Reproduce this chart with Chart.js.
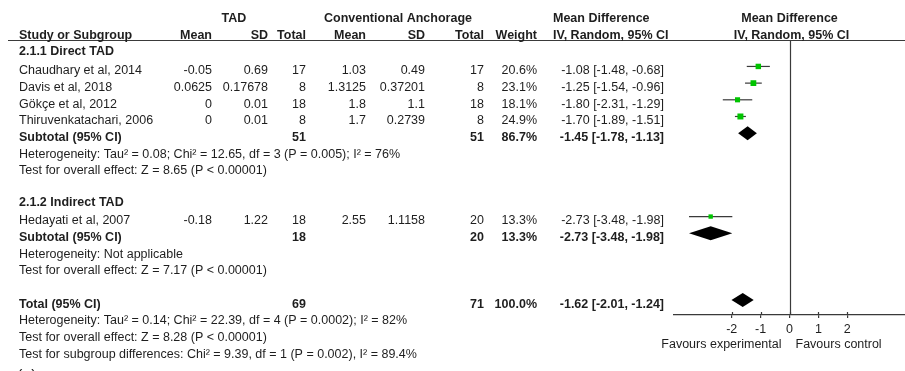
<!DOCTYPE html>
<html>
<head>
<meta charset="utf-8">
<title>Forest plot: TAD vs conventional anchorage</title>
<script src="https://cdn.jsdelivr.net/npm/chart.js@4/dist/chart.umd.min.js"></script>
<style>
  html, body { margin: 0; padding: 0; background: #ffffff; }
  #wrap { width: 905px; height: 371px; }
</style>
</head>
<body>
<div id="wrap"><canvas id="forest" width="905" height="371"></canvas></div>
<script>
// ---- study-level data ----
const studies  = ['Chaudhary et al, 2014', 'Davis et al, 2018', 'Gökçe et al, 2012', 'Thiruvenkatachari, 2006', 'Hedayati et al, 2007'];
const studyRow = [3, 4, 5, 6, 12];
const tadMean  = [-0.05, 0.0625, 0, 0, -0.18];
const tadSD    = [0.69, 0.17678, 0.01, 0.01, 1.22];
const tadN     = [17, 8, 18, 8, 18];
const conMean  = [1.03, 1.3125, 1.8, 1.7, 2.55];
const conSD    = [0.49, 0.37201, 1.1, 0.2739, 1.1158];
const conN     = [17, 8, 18, 8, 20];
const weight   = [20.6, 23.1, 18.1, 24.9, 13.3];
const md       = [-1.08, -1.25, -1.80, -1.70, -2.73];
const ciLow    = [-1.48, -1.54, -2.31, -1.89, -3.48];
const ciHigh   = [-0.68, -0.96, -1.29, -1.51, -1.98];

// ---- pooled estimates (two subgroups, then overall) ----
const poolLabel = ['Subtotal (95% CI)', 'Subtotal (95% CI)', 'Total (95% CI)'];
const poolRow   = [7, 13, 17];
const poolTadN  = [51, 18, 69];
const poolConN  = [51, 20, 71];
const poolWt    = [86.7, 13.3, 100.0];
const poolMd    = [-1.45, -2.73, -1.62];
const poolLow   = [-1.78, -3.48, -2.01];
const poolHigh  = [-1.13, -1.98, -1.24];

// ---- headings and statistics lines ----
const headerRows  = [-0.12, 0.88];
const groupTitles = ['2.1.1 Direct TAD', '2.1.2 Indirect TAD'];
const groupRows   = [1.88, 10.88];
const noteLines = [
  'Heterogeneity: Tau² = 0.08; Chi² = 12.65, df = 3 (P = 0.005); I² = 76%',
  'Test for overall effect: Z = 8.65 (P < 0.00001)',
  'Heterogeneity: Not applicable',
  'Test for overall effect: Z = 7.17 (P < 0.00001)',
  'Heterogeneity: Tau² = 0.14; Chi² = 22.39, df = 4 (P = 0.0002); I² = 82%',
  'Test for overall effect: Z = 8.28 (P < 0.00001)',
  'Test for subgroup differences: Chi² = 9.39, df = 1 (P = 0.002), I² = 89.4%'
];
const noteRows = [8, 9, 14, 15, 18, 19, 20];

// ---- axis ----
const xTicks = [-2, -1, 0, 1, 2];
const xMin = -4, xMax = 4;
const leftLabel = 'Favours experimental';
const rightLabel = 'Favours control';

// ---- styling ----
const FONT = '"Liberation Sans", Arial, Helvetica, sans-serif';
const FS = 12.5;
const TEXT = '#1e1e1e';
const LINE = '#3a3a3a';
const GREEN = '#00c400';
const ROW_PX = 16.68;        // vertical pitch of one table row
const FIRST_ROW_Y = 16.4;    // marker centre of row 0
const TEXT_DROP = 7.7;       // text baseline below a row's marker centre
const PLOT_TOP = 40;         // header rule / top of plot area
const PLOT_BOTTOM = 315;     // x axis line
const PLOT_LEFT = 674;
const DIAMOND_HALF = 0.42;   // diamond half height in row units

// row value at a given pixel, used to set the y range so rows are evenly pitched
const rowAt = px => (px - FIRST_ROW_Y) / ROW_PX;

// table column anchors
const COL = {
  study: 19, tadMean: 212, tadSD: 268, tadN: 306,
  conMean: 366, conSD: 425, conN: 484, weight: 537, ci: 664, ciHead: 553
};

const fmt2 = v => v.toFixed(2);
const ciText = (m, l, h) => `${fmt2(m)} [${fmt2(l)}, ${fmt2(h)}]`;

// datasets: squares first so they sit on top of their CI lines
const datasets = [];
datasets.push({
  label: 'studies',
  data: md.map((m, i) => ({ x: m, y: studyRow[i] })),
  pointStyle: 'rect',
  pointRadius: weight.map(w => 1.2 * Math.sqrt(w) / Math.SQRT2),
  backgroundColor: GREEN,
  borderWidth: 0,
  order: 0
});
md.forEach((m, i) => {
  datasets.push({
    label: studies[i] + ' CI',
    data: [{ x: ciLow[i], y: studyRow[i] }, { x: ciHigh[i], y: studyRow[i] }],
    showLine: true,
    borderColor: LINE,
    borderWidth: 1.2,
    pointRadius: 0,
    order: 1
  });
});

const tablePlugin = {
  id: 'forestTable',
  afterDatasetsDraw(chart) {
    const { ctx, scales: { x, y } } = chart;
    ctx.save();

    // pooled diamonds
    ctx.fillStyle = '#000000';
    poolMd.forEach((m, i) => {
      const r = poolRow[i];
      ctx.beginPath();
      ctx.moveTo(x.getPixelForValue(poolLow[i]), y.getPixelForValue(r));
      ctx.lineTo(x.getPixelForValue(m), y.getPixelForValue(r - DIAMOND_HALF));
      ctx.lineTo(x.getPixelForValue(poolHigh[i]), y.getPixelForValue(r));
      ctx.lineTo(x.getPixelForValue(m), y.getPixelForValue(r + DIAMOND_HALF));
      ctx.closePath();
      ctx.fill();
    });

    // line of no effect
    ctx.strokeStyle = LINE;
    ctx.lineWidth = 1.2;
    const x0 = Math.round(x.getPixelForValue(0)) + 0.5;
    ctx.beginPath();
    ctx.moveTo(x0, chart.chartArea.top);
    ctx.lineTo(x0, chart.chartArea.bottom);
    ctx.stroke();

    // upper halves of the tick marks (ticks cross the axis)
    ctx.beginPath();
    xTicks.forEach(v => {
      const px = Math.round(x.getPixelForValue(v)) + 0.5;
      ctx.moveTo(px, chart.chartArea.bottom - 3);
      ctx.lineTo(px, chart.chartArea.bottom);
    });
    ctx.stroke();

    // header rule
    ctx.beginPath();
    ctx.moveTo(8, chart.chartArea.top + 0.5);
    ctx.lineTo(chart.width, chart.chartArea.top + 0.5);
    ctx.stroke();

    // ---- text ----
    ctx.fillStyle = TEXT;
    ctx.textBaseline = 'alphabetic';
    const T = (s, px, r, align, bold) => {
      ctx.font = `${bold ? 'bold ' : ''}${FS}px ${FONT}`;
      ctx.textAlign = align;
      ctx.fillText(String(s), px, y.getPixelForValue(r) + TEXT_DROP);
    };

    // headers
    const xc = x.getPixelForValue(0);
    const [h0, h1] = headerRows;
    T('TAD', 234, h0, 'center', true);
    T('Conventional Anchorage', 398, h0, 'center', true);
    T('Mean Difference', COL.ciHead, h0, 'left', true);
    T('Mean Difference', xc, h0, 'center', true);
    T('Study or Subgroup', COL.study, h1, 'left', true);
    T('Mean', COL.tadMean, h1, 'right', true);
    T('SD', COL.tadSD, h1, 'right', true);
    T('Total', COL.tadN, h1, 'right', true);
    T('Mean', COL.conMean, h1, 'right', true);
    T('SD', COL.conSD, h1, 'right', true);
    T('Total', COL.conN, h1, 'right', true);
    T('Weight', COL.weight, h1, 'right', true);
    T('IV, Random, 95% CI', COL.ciHead, h1, 'left', true);
    T('IV, Random, 95% CI', xc + 2, h1, 'center', true);

    groupTitles.forEach((g, i) => T(g, COL.study, groupRows[i], 'left', true));

    studies.forEach((s, i) => {
      const r = studyRow[i];
      T(s, COL.study, r, 'left', false);
      T(tadMean[i], COL.tadMean, r, 'right', false);
      T(tadSD[i], COL.tadSD, r, 'right', false);
      T(tadN[i], COL.tadN, r, 'right', false);
      T(conMean[i], COL.conMean, r, 'right', false);
      T(conSD[i], COL.conSD, r, 'right', false);
      T(conN[i], COL.conN, r, 'right', false);
      T(weight[i].toFixed(1) + '%', COL.weight, r, 'right', false);
      T(ciText(md[i], ciLow[i], ciHigh[i]), COL.ci, r, 'right', false);
    });

    poolLabel.forEach((s, i) => {
      const r = poolRow[i];
      T(s, COL.study, r, 'left', true);
      T(poolTadN[i], COL.tadN, r, 'right', true);
      T(poolConN[i], COL.conN, r, 'right', true);
      T(poolWt[i].toFixed(1) + '%', COL.weight, r, 'right', true);
      T(ciText(poolMd[i], poolLow[i], poolHigh[i]), COL.ci, r, 'right', true);
    });

    noteLines.forEach((s, i) => T(s, COL.study, noteRows[i], 'left', false));

    // axis captions either side of zero
    const capY = chart.chartArea.bottom + 32.5;
    ctx.font = `${FS}px ${FONT}`;
    ctx.textAlign = 'right';
    ctx.fillText(leftLabel, xc - 8, capY);
    ctx.textAlign = 'left';
    ctx.fillText(rightLabel, xc + 6, capY);

    // panel letter, cut by the bottom edge
    ctx.font = `16px ${FONT}`;
    ctx.fillText('(a)', 17, 381);

    ctx.restore();
  }
};

new Chart(document.getElementById('forest'), {
  type: 'scatter',
  data: { datasets },
  options: {
    responsive: false,
    animation: false,
    layout: { autoPadding: false, padding: { left: PLOT_LEFT, right: 0, top: PLOT_TOP, bottom: 0 } },
    plugins: { legend: { display: false }, tooltip: { enabled: false } },
    scales: {
      x: {
        type: 'linear',
        min: xMin,
        max: xMax,
        afterBuildTicks: s => { s.ticks = xTicks.map(v => ({ value: v })); },
        afterFit: s => {
          s.height = 371 - PLOT_BOTTOM;
          s.paddingLeft = 0;
          s.paddingRight = 0;
        },
        border: { display: true, color: LINE, width: 1.2 },
        grid: { drawOnChartArea: false, drawTicks: true, tickLength: 3, color: LINE, lineWidth: 1.2 },
        ticks: {
          color: TEXT,
          padding: 4,
          font: { family: FONT, size: FS },
          maxRotation: 0,
          callback: v => String(v)
        }
      },
      y: {
        type: 'linear',
        reverse: true,
        min: rowAt(PLOT_TOP),
        max: rowAt(PLOT_BOTTOM),
        display: false
      }
    }
  },
  plugins: [tablePlugin]
});
</script>
</body>
</html>
